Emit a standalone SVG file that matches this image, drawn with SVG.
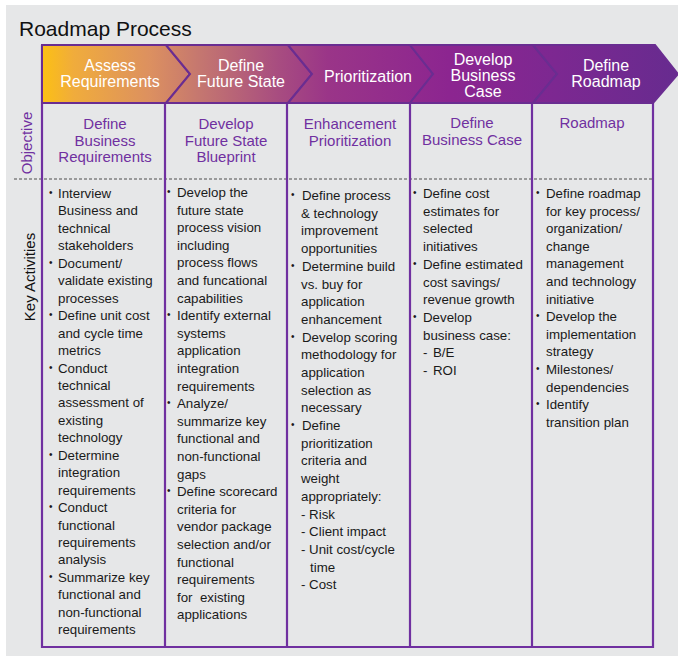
<svg xmlns="http://www.w3.org/2000/svg" width="678" height="656" viewBox="0 0 678 656">
<defs>
<linearGradient id="hdr" gradientUnits="userSpaceOnUse" x1="42" y1="0" x2="678" y2="0">
<stop offset="0" stop-color="#fcc014"/>
<stop offset="0.05" stop-color="#f0ac3c"/>
<stop offset="0.17" stop-color="#dc9060"/>
<stop offset="0.25" stop-color="#c47670"/>
<stop offset="0.37" stop-color="#a84d80"/>
<stop offset="0.45" stop-color="#9a3588"/>
<stop offset="0.64" stop-color="#8c2590"/>
<stop offset="0.81" stop-color="#7c2891"/>
<stop offset="1" stop-color="#672b8f"/>
</linearGradient>
</defs>
<style>
.chev{fill:url(#hdr);stroke:#6a2d91;stroke-width:2;stroke-linejoin:miter}
.ht{font-family:"Liberation Sans",Arial,sans-serif;font-size:16px;fill:#ffffff;text-anchor:middle}
.ot{font-family:"Liberation Sans",Arial,sans-serif;font-size:15px;fill:#7030a0;text-anchor:middle}
.at{font-family:"Liberation Sans",Arial,sans-serif;font-size:13.3px;fill:#1a1a1a}
.bu{font-family:"Liberation Sans",Arial,sans-serif;font-size:10px;fill:#1a1a1a}
.grid{stroke:#7030a0;stroke-width:2.2;fill:none}
.dash{stroke:#4d4d4d;stroke-width:1;stroke-dasharray:3 2;fill:none}
</style>
<rect x="6" y="5" width="672" height="651" fill="#e6e7e8"/>
<text x="19" y="36" font-family="'Liberation Sans',Arial,sans-serif" font-size="21" fill="#111111">Roadmap Process</text>

<line class="dash" x1="14" y1="179" x2="653" y2="179"/>

<g id="grid" class="grid">
<line x1="165" y1="103" x2="165" y2="647"/>
<line x1="287" y1="103" x2="287" y2="647"/>
<line x1="410" y1="103" x2="410" y2="647"/>
<line x1="532" y1="103" x2="532" y2="647"/>
<polyline points="42,45 42,647 653,647 653,103"/>
</g>

<g id="connectors"></g>

<g id="phase-assess">
<polygon class="chev" points="42,45 166,45 190,74 166,103 42,103"/>
<text class="ht" x="110" y="71">Assess</text>
<text class="ht" x="110" y="87">Requirements</text>
</g>
<g id="phase-future">
<polygon class="chev" points="166,45 288,45 312,74 288,103 166,103 190,74"/>
<text class="ht" x="241" y="71">Define</text>
<text class="ht" x="241" y="87">Future State</text>
</g>
<g id="phase-prior">
<polygon class="chev" points="288,45 410,45 433,74 410,103 288,103 312,74"/>
<text class="ht" x="368" y="82">Prioritization</text>
</g>
<g id="phase-case">
<polygon class="chev" points="410,45 533,45 557,74 533,103 410,103 433,74"/>
<text class="ht" x="483" y="65">Develop</text>
<text class="ht" x="483" y="81">Business</text>
<text class="ht" x="483" y="97">Case</text>
</g>
<g id="phase-roadmap">
<polygon class="chev" points="533,45 655,45 678,74 653,103 533,103 557,74"/>
<text class="ht" x="606" y="71">Define</text>
<text class="ht" x="606" y="87">Roadmap</text>
</g>

<g id="label-objective">
<text transform="translate(32,143) rotate(-90)" font-family="'Liberation Sans',Arial,sans-serif" font-size="15" fill="#7030a0" text-anchor="middle">Objective</text>
</g>
<g id="label-activities">
<text transform="translate(35,277) rotate(-90)" font-family="'Liberation Sans',Arial,sans-serif" font-size="15" fill="#111111" text-anchor="middle">Key Activities</text>
</g>

<g id="obj-1">
<text class="ot" x="105" y="129">Define</text>
<text class="ot" x="105" y="146">Business</text>
<text class="ot" x="105" y="162">Requirements</text>
</g>
<g id="obj-2">
<text class="ot" x="226" y="129">Develop</text>
<text class="ot" x="226" y="146">Future State</text>
<text class="ot" x="226" y="162">Blueprint</text>
</g>
<g id="obj-3">
<text class="ot" x="350" y="129">Enhancement</text>
<text class="ot" x="350" y="146">Prioritization</text>
</g>
<g id="obj-4">
<text class="ot" x="472" y="128">Define</text>
<text class="ot" x="472" y="145">Business Case</text>
</g>
<g id="obj-5">
<text class="ot" x="592" y="128">Roadmap</text>
</g>

<g id="act-1">
<text class="at">
<tspan x="58" y="198">Interview</tspan>
<tspan x="58" dy="17.45">Business and</tspan>
<tspan x="58" dy="17.45">technical</tspan>
<tspan x="58" dy="17.45">stakeholders</tspan>
<tspan x="58" dy="17.45">Document/</tspan>
<tspan x="58" dy="17.45">validate existing</tspan>
<tspan x="58" dy="17.45">processes</tspan>
<tspan x="58" dy="17.45">Define unit cost</tspan>
<tspan x="58" dy="17.45">and cycle time</tspan>
<tspan x="58" dy="17.45">metrics</tspan>
<tspan x="58" dy="17.45">Conduct</tspan>
<tspan x="58" dy="17.45">technical</tspan>
<tspan x="58" dy="17.45">assessment of</tspan>
<tspan x="58" dy="17.45">existing</tspan>
<tspan x="58" dy="17.45">technology</tspan>
<tspan x="58" dy="17.45">Determine</tspan>
<tspan x="58" dy="17.45">integration</tspan>
<tspan x="58" dy="17.45">requirements</tspan>
<tspan x="58" dy="17.45">Conduct</tspan>
<tspan x="58" dy="17.45">functional</tspan>
<tspan x="58" dy="17.45">requirements</tspan>
<tspan x="58" dy="17.45">analysis</tspan>
<tspan x="58" dy="17.45">Summarize key</tspan>
<tspan x="58" dy="17.45">functional and</tspan>
<tspan x="58" dy="17.45">non-functional</tspan>
<tspan x="58" dy="17.45">requirements</tspan>
</text>
<text class="bu">
<tspan x="49" y="196">•</tspan>
<tspan x="49" y="265.8">•</tspan>
<tspan x="49" y="318.2">•</tspan>
<tspan x="49" y="370.5">•</tspan>
<tspan x="49" y="457.8">•</tspan>
<tspan x="49" y="510.1">•</tspan>
<tspan x="49" y="579.9">•</tspan>
</text>
</g>

<g id="act-2">
<text class="at">
<tspan x="177" y="197">Develop the</tspan>
<tspan x="177" dy="17.6">future state</tspan>
<tspan x="177" dy="17.6">process vision</tspan>
<tspan x="177" dy="17.6">including</tspan>
<tspan x="177" dy="17.6">process flows</tspan>
<tspan x="177" dy="17.6">and funcational</tspan>
<tspan x="177" dy="17.6">capabilities</tspan>
<tspan x="177" dy="17.6">Identify external</tspan>
<tspan x="177" dy="17.6">systems</tspan>
<tspan x="177" dy="17.6">application</tspan>
<tspan x="177" dy="17.6">integration</tspan>
<tspan x="177" dy="17.6">requirements</tspan>
<tspan x="177" dy="17.6">Analyze/</tspan>
<tspan x="177" dy="17.6">summarize key</tspan>
<tspan x="177" dy="17.6">functional and</tspan>
<tspan x="177" dy="17.6">non-functional</tspan>
<tspan x="177" dy="17.6">gaps</tspan>
<tspan x="177" dy="17.6">Define scorecard</tspan>
<tspan x="177" dy="17.6">criteria for</tspan>
<tspan x="177" dy="17.6">vendor package</tspan>
<tspan x="177" dy="17.6">selection and/or</tspan>
<tspan x="177" dy="17.6">functional</tspan>
<tspan x="177" dy="17.6">requirements</tspan>
<tspan x="177" dy="17.6" xml:space="preserve">for  existing</tspan>
<tspan x="177" dy="17.6">applications</tspan>
</text>
<text class="bu">
<tspan x="167" y="195">•</tspan>
<tspan x="167" y="318.2">•</tspan>
<tspan x="167" y="406.2">•</tspan>
<tspan x="167" y="494.2">•</tspan>
</text>
</g>

<g id="act-3">
<text class="at">
<tspan x="302" y="200">Define process</tspan>
<tspan x="301" dy="17.7">&amp; technology</tspan>
<tspan x="301" dy="17.7">improvement</tspan>
<tspan x="301" dy="17.7">opportunities</tspan>
<tspan x="302" dy="17.7">Determine build</tspan>
<tspan x="301" dy="17.7">vs. buy for</tspan>
<tspan x="301" dy="17.7">application</tspan>
<tspan x="301" dy="17.7">enhancement</tspan>
<tspan x="302" dy="17.7">Develop scoring</tspan>
<tspan x="301" dy="17.7">methodology for</tspan>
<tspan x="301" dy="17.7">application</tspan>
<tspan x="301" dy="17.7">selection as</tspan>
<tspan x="301" dy="17.7">necessary</tspan>
<tspan x="302" dy="17.7">Define</tspan>
<tspan x="301" dy="17.7">prioritization</tspan>
<tspan x="301" dy="17.7">criteria and</tspan>
<tspan x="301" dy="17.7">weight</tspan>
<tspan x="301" dy="17.7">appropriately:</tspan>
<tspan x="301" dy="17.7">- Risk</tspan>
<tspan x="301" dy="17.7">- Client impact</tspan>
<tspan x="301" dy="17.7">- Unit cost/cycle</tspan>
<tspan x="310" dy="17.7">time</tspan>
<tspan x="301" dy="17.7">- Cost</tspan>
</text>
<text class="bu">
<tspan x="291" y="198">•</tspan>
<tspan x="291" y="268.8">•</tspan>
<tspan x="291" y="339.6">•</tspan>
<tspan x="291" y="428.1">•</tspan>
</text>
</g>

<g id="act-4">
<text class="at">
<tspan x="423" y="198">Define cost</tspan>
<tspan x="423" dy="17.7">estimates for</tspan>
<tspan x="423" dy="17.7">selected</tspan>
<tspan x="423" dy="17.7">initiatives</tspan>
<tspan x="423" dy="17.7">Define estimated</tspan>
<tspan x="423" dy="17.7">cost savings/</tspan>
<tspan x="423" dy="17.7">revenue growth</tspan>
<tspan x="423" dy="17.7">Develop</tspan>
<tspan x="423" dy="17.7">business case:</tspan>
<tspan x="423" dy="17.7">-</tspan>
<tspan x="433">B/E</tspan>
<tspan x="423" dy="17.7">-</tspan>
<tspan x="433">ROI</tspan>
</text>
<text class="bu">
<tspan x="413" y="196">•</tspan>
<tspan x="413" y="266.8">•</tspan>
<tspan x="413" y="319.9">•</tspan>
</text>
</g>

<g id="act-5">
<text class="at">
<tspan x="546" y="198">Define roadmap</tspan>
<tspan x="546" dy="17.6">for key process/</tspan>
<tspan x="546" dy="17.6">organization/</tspan>
<tspan x="546" dy="17.6">change</tspan>
<tspan x="546" dy="17.6">management</tspan>
<tspan x="546" dy="17.6">and technology</tspan>
<tspan x="546" dy="17.6">initiative</tspan>
<tspan x="546" dy="17.6">Develop the</tspan>
<tspan x="546" dy="17.6">implementation</tspan>
<tspan x="546" dy="17.6">strategy</tspan>
<tspan x="546" dy="17.6">Milestones/</tspan>
<tspan x="546" dy="17.6">dependencies</tspan>
<tspan x="546" dy="17.6">Identify</tspan>
<tspan x="546" dy="17.6">transition plan</tspan>
</text>
<text class="bu">
<tspan x="536" y="196">•</tspan>
<tspan x="536" y="319.2">•</tspan>
<tspan x="536" y="372">•</tspan>
<tspan x="536" y="407.2">•</tspan>
</text>
</g>
</svg>
